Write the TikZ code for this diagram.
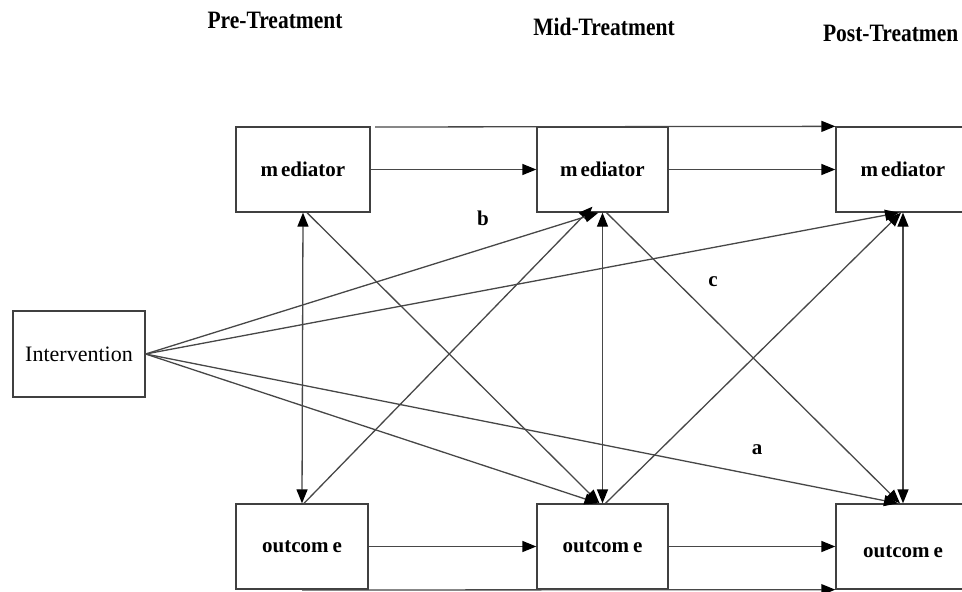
\documentclass[tikz,border=0pt]{standalone}
\usepackage{fontspec}
\setmainfont{Liberation Serif}
\usetikzlibrary{arrows.meta}
\begin{document}
\begin{tikzpicture}[x=1pt,y=-1pt,
  box/.style={draw=black!75,line width=1.3pt,fill=white,minimum width=134pt,minimum height=85pt,inner sep=0pt},
  ln/.style={draw=black!72,line width=1.3pt},
  tip/.tip={Triangle[length=14pt,width=11pt,color=black]},
  arr/.style={ln,-tip},
  darr/.style={ln,tip-tip},
  hdr/.style={font=\fontsize{25}{28}\selectfont\bfseries,xscale=0.86},
  lbl/.style={font=\fontsize{21}{24}\selectfont\bfseries},
  txt/.style={font=\fontsize{21}{24}\selectfont\bfseries}]
\useasboundingbox (0,0) rectangle (962,592);
\clip (0,0) rectangle (962,592);
% headers
\node[hdr] (h1) at (275,20) {Pre-Treatment};
\node[hdr] (h2) at (604,27) {Mid-Treatment};
\node[hdr,anchor=west] (h3) at (820,33) {Post-Treatmen};
% boxes
\node[box] (mp) at (303,169.5) {};
\node[txt] at (mp) {m\kern3pt ediator};
\node[box,minimum width=131pt] (mm) at (602.5,169.5) {};
\node[txt] at (mm) {m\kern3pt ediator};
\node[box] (mq) at (903,169.5) {};
\node[txt] at (mq) {m\kern3pt ediator};
\node[box,minimum width=132pt,minimum height=86pt] (ip) at (79,354) {};
\node[font=\fontsize{22}{26}\selectfont] at (ip) {Intervention};
\node[box,minimum width=132pt] (op) at (302,546.5) {};
\node[txt] at (op) {outcom\kern4pt e};
\node[box,minimum width=131pt] (om) at (602.5,546.5) {};
\node[txt] at (om) {outcom\kern4pt e};
\node[box] (oq) at (903,546.5) {};
\node[txt] at ([yshift=-5pt]oq.center) {outcom\kern4pt e};
% long arrows
\coordinate (tl) at (375,127);
\coordinate (bl) at (302,590);
\draw[arr] (tl) -- (mq.north west);
\draw[arr] (bl) -- (oq.south west);
% horizontal arrows
\draw[arr] (mp.east) -- (mm.west);
\draw[arr] (mm.east) -- (mq.west);
\draw[arr] (op.east) -- (om.west);
\draw[arr] (om.east) -- (oq.west);
% vertical double arrows
\draw[darr] (mp.south) -- (op.north);
\draw[darr] (mm.south) -- (om.north);
\draw[darr] (mq.south) -- (oq.north);
% cross arrows
\draw[arr] ([xshift=4pt]mp.south) -- ([xshift=-3pt]om.north);
\draw[arr] ([xshift=2pt]op.north) -- ([xshift=-10pt,yshift=6pt]mm.south);
\draw[arr] ([xshift=4pt]mm.south) -- ([xshift=-3pt]oq.north);
\draw[arr] ([xshift=3pt]om.north) -- ([xshift=-2pt]mq.south);
% intervention arrows
\draw[arr] (ip.east) -- ([xshift=-4pt]mm.south);
\draw[arr] (ip.east) -- ([xshift=-4pt]mq.south);
\draw[arr] (ip.east) -- ([xshift=-4pt]om.north);
\draw[arr] (ip.east) -- ([xshift=-5pt]oq.north);
% labels
\node[lbl] (lb) at (483,218) {b};
\node[lbl] (lc) at (713,282) {c};
\node[lbl] (la) at (757,450) {a};
\end{tikzpicture}
\end{document}
